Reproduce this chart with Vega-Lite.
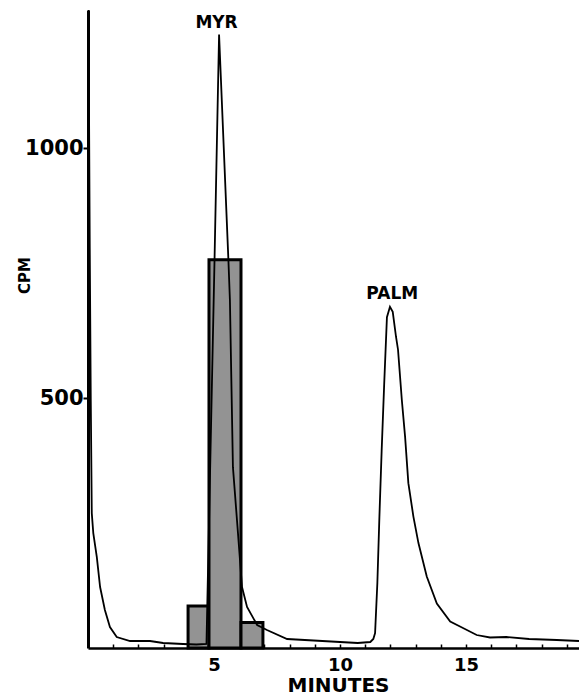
{
  "$schema": "https://vega.github.io/schema/vega-lite/v6.json",
  "autosize": "none",
  "padding": {"left": 88, "top": 10, "right": 0, "bottom": 47},
  "width": 491,
  "height": 638,
  "background": "white",
  "config": {
    "view": {"stroke": null},
    "font": "DejaVu Sans"
  },
  "datasets": {
    "curve": [
      {"min": 0.02, "cpm": 1277},
      {"min": 0.07, "cpm": 800},
      {"min": 0.11, "cpm": 496},
      {"min": 0.15, "cpm": 270},
      {"min": 0.21, "cpm": 230},
      {"min": 0.35, "cpm": 182},
      {"min": 0.48, "cpm": 122},
      {"min": 0.67, "cpm": 76},
      {"min": 0.87, "cpm": 42},
      {"min": 1.14, "cpm": 22},
      {"min": 1.67, "cpm": 14},
      {"min": 2.46, "cpm": 14},
      {"min": 2.98, "cpm": 10},
      {"min": 3.77, "cpm": 8},
      {"min": 4.3, "cpm": 7},
      {"min": 4.7, "cpm": 8},
      {"min": 5.02, "cpm": 777},
      {"min": 5.2, "cpm": 1228},
      {"min": 5.57, "cpm": 777},
      {"min": 5.63, "cpm": 697},
      {"min": 5.75, "cpm": 362},
      {"min": 5.95, "cpm": 230},
      {"min": 6.11, "cpm": 122},
      {"min": 6.31, "cpm": 82},
      {"min": 6.71, "cpm": 46},
      {"min": 7.1, "cpm": 36},
      {"min": 7.9, "cpm": 18},
      {"min": 8.6, "cpm": 16},
      {"min": 9.3, "cpm": 14},
      {"min": 10.0, "cpm": 12},
      {"min": 10.7, "cpm": 10},
      {"min": 11.2, "cpm": 12},
      {"min": 11.32, "cpm": 18},
      {"min": 11.39, "cpm": 30},
      {"min": 11.48, "cpm": 130},
      {"min": 11.56, "cpm": 261},
      {"min": 11.65, "cpm": 394},
      {"min": 11.75, "cpm": 527},
      {"min": 11.86, "cpm": 662},
      {"min": 11.98, "cpm": 683},
      {"min": 12.09, "cpm": 673},
      {"min": 12.22, "cpm": 623},
      {"min": 12.3, "cpm": 597},
      {"min": 12.45, "cpm": 497},
      {"min": 12.58, "cpm": 423},
      {"min": 12.71, "cpm": 330},
      {"min": 12.91, "cpm": 263},
      {"min": 13.11, "cpm": 210},
      {"min": 13.44, "cpm": 143},
      {"min": 13.84, "cpm": 89},
      {"min": 14.37, "cpm": 53},
      {"min": 14.76, "cpm": 43},
      {"min": 15.42, "cpm": 26},
      {"min": 15.95, "cpm": 21},
      {"min": 16.6, "cpm": 22},
      {"min": 17.5, "cpm": 18},
      {"min": 18.6, "cpm": 16},
      {"min": 19.48, "cpm": 14}
    ],
    "fractions": [
      {"min": 3.97, "end": 4.8, "cpm": 84},
      {"min": 4.8, "end": 6.07, "cpm": 777},
      {"min": 6.07, "end": 6.94, "cpm": 51}
    ],
    "peaks": [
      {"min": 5.1, "cpm": 1251, "label": "MYR"},
      {"min": 12.07, "cpm": 708, "label": "PALM"}
    ]
  },
  "encoding": {
    "x": {
      "field": "min",
      "type": "quantitative",
      "scale": {"domain": [0, 19.48], "nice": false, "zero": false},
      "axis": {
        "values": [1, 2, 3, 4, 5, 6, 7, 8, 9, 10, 11, 12, 13, 14, 15, 16, 17, 18, 19],
        "labelExpr": "(datum.value == 5 || datum.value == 10 || datum.value == 15) ? format(datum.value, 'd') : ''",
        "labelOverlap": false,
        "labelBound": false,
        "grid": false,
        "domainColor": "black",
        "domainWidth": 2.5,
        "tickColor": "black",
        "tickWidth": 1.5,
        "tickSize": -4,
        "labelFont": "DejaVu Sans",
        "labelFontWeight": "bold",
        "labelFontSize": 18,
        "labelColor": "black",
        "labelPadding": 12,
        "labelFlush": false,
        "title": "MINUTES",
        "titleFont": "DejaVu Sans",
        "titleFontWeight": "bold",
        "titleFontSize": 20,
        "titleColor": "black",
        "titleX": 250,
        "titleY": 37,
        "titleAlign": "center",
        "titleBaseline": "middle",
        "titleAnchor": null
      }
    },
    "y": {
      "field": "cpm",
      "type": "quantitative",
      "scale": {"domain": [0, 1277], "nice": false},
      "axis": {
        "values": [500, 1000],
        "format": "d",
        "grid": false,
        "domainColor": "black",
        "domainWidth": 3,
        "tickColor": "black",
        "tickWidth": 2,
        "tickSize": 5,
        "labelFont": "DejaVu Sans",
        "labelFontWeight": "bold",
        "labelFontSize": 21,
        "labelColor": "black",
        "labelPadding": 0,
        "title": "CPM",
        "titleFont": "DejaVu Sans",
        "titleFontWeight": "bold",
        "titleFontSize": 15,
        "titleColor": "black",
        "titleAngle": -90,
        "titleX": -64,
        "titleY": 265,
        "titleAlign": "center",
        "titleBaseline": "middle"
      }
    }
  },
  "layer": [
    {
      "data": {"name": "fractions"},
      "mark": {"type": "bar", "fill": "#939393", "stroke": "black", "strokeWidth": 3},
      "encoding": {
        "x2": {"field": "end"},
        "y2": {"datum": 0}
      }
    },
    {
      "data": {"name": "curve"},
      "mark": {"type": "line", "color": "black", "strokeWidth": 1.8, "clip": true}
    },
    {
      "data": {"name": "peaks"},
      "mark": {"type": "text", "font": "DejaVu Sans", "fontWeight": "bold", "fontSize": 17, "color": "black", "align": "center", "baseline": "middle"},
      "encoding": {
        "text": {"field": "label"}
      }
    }
  ]
}
